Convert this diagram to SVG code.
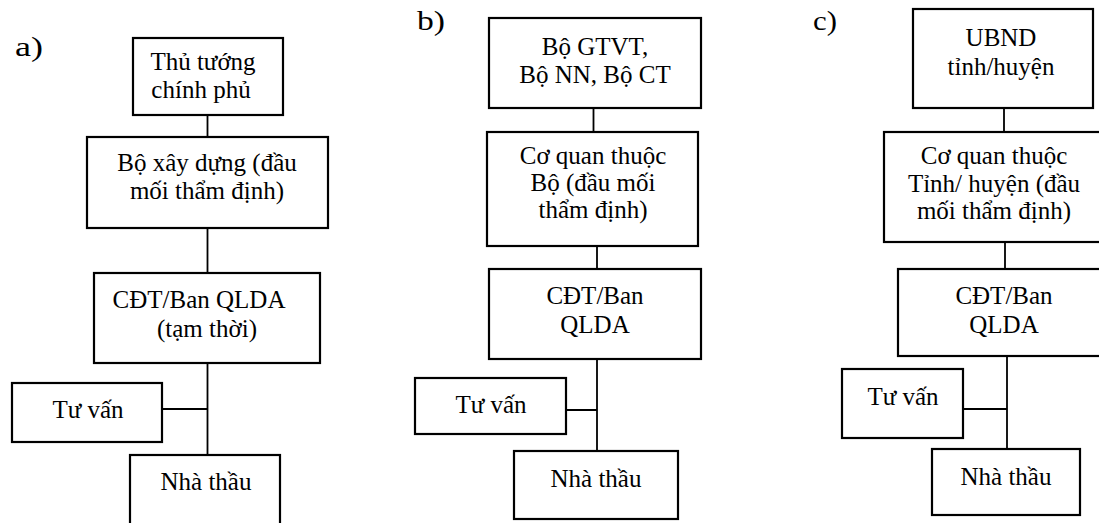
<svg xmlns="http://www.w3.org/2000/svg" width="1099" height="523" viewBox="0 0 1099 523">
<style>
.box{fill:#fff;stroke:#000;stroke-width:2.2}
.t{font-family:"Liberation Serif","Times New Roman",serif;font-size:25px;fill:#000;text-anchor:middle}
.lbl{font-family:"Liberation Serif","Times New Roman",serif;font-size:27px;fill:#000}
.c{stroke:#000;stroke-width:1.8;fill:none}
</style>
<rect width="1099" height="523" fill="#fff"/>
<g id="connectors">
<path class="c" d="M207.5 115V455M162 409H207.5"/>
<path class="c" d="M593.5 108V132M597 246V451M566 410H597"/>
<path class="c" d="M1004 108V132M1005 242V269M1007 356V449M963 409H1007"/>
</g>
<g id="labels">
<text class="lbl" x="15" y="56" textLength="28" lengthAdjust="spacingAndGlyphs">a)</text>
<text class="lbl" x="417" y="30" textLength="28" lengthAdjust="spacingAndGlyphs">b)</text>
<text class="lbl" x="813" y="30" textLength="24" lengthAdjust="spacingAndGlyphs">c)</text>
</g>
<g id="a-thutuong"><rect class="box" x="133" y="38" width="150" height="77"/><text class="t" x="203" y="70">Thủ tướng</text><text class="t" x="201" y="98">chính phủ</text></g>
<g id="a-boxaydung"><rect class="box" x="87" y="137" width="241" height="91"/><text class="t" x="207" y="171">Bộ xây dựng (đầu</text><text class="t" x="207" y="199">mối thẩm định)</text></g>
<g id="a-cdt"><rect class="box" x="94" y="273" width="226" height="90"/><text class="t" x="199" y="308">CĐT/Ban QLDA</text><text class="t" x="207" y="337">(tạm thời)</text></g>
<g id="a-tuvan"><rect class="box" x="12" y="383" width="150" height="59"/><text class="t" x="88" y="418">Tư vấn</text></g>
<g id="a-nhathau"><rect class="box" x="130" y="455" width="150" height="80"/><text class="t" x="206" y="490">Nhà thầu</text></g>
<g id="b-bo"><rect class="box" x="489" y="18" width="212" height="90"/><text class="t" x="595" y="55">Bộ GTVT,</text><text class="t" x="595" y="83">Bộ NN, Bộ CT</text></g>
<g id="b-coquan"><rect class="box" x="487" y="132" width="211" height="114"/><text class="t" x="593" y="164">Cơ quan thuộc</text><text class="t" x="593" y="191">Bộ (đầu mối</text><text class="t" x="593" y="218">thẩm định)</text></g>
<g id="b-cdt"><rect class="box" x="489" y="269" width="212" height="90"/><text class="t" x="595" y="304">CĐT/Ban</text><text class="t" x="595" y="333">QLDA</text></g>
<g id="b-tuvan"><rect class="box" x="415" y="378" width="151" height="56"/><text class="t" x="491" y="413">Tư vấn</text></g>
<g id="b-nhathau"><rect class="box" x="514" y="451" width="164" height="68"/><text class="t" x="596" y="487">Nhà thầu</text></g>
<g id="c-ubnd"><rect class="box" x="913" y="9" width="180" height="99"/><text class="t" x="1001" y="46">UBND</text><text class="t" x="1001" y="75">tỉnh/huyện</text></g>
<g id="c-coquan"><rect class="box" x="884" y="132" width="225" height="110"/><text class="t" x="994" y="164">Cơ quan thuộc</text><text class="t" x="994" y="192">Tỉnh/ huyện (đầu</text><text class="t" x="994" y="219">mối thẩm định)</text></g>
<g id="c-cdt"><rect class="box" x="898" y="269" width="211" height="87"/><text class="t" x="1004" y="304">CĐT/Ban</text><text class="t" x="1004" y="333">QLDA</text></g>
<g id="c-tuvan"><rect class="box" x="842" y="369" width="121" height="69"/><text class="t" x="903" y="405">Tư vấn</text></g>
<g id="c-nhathau"><rect class="box" x="932" y="449" width="148" height="66"/><text class="t" x="1006" y="485">Nhà thầu</text></g>
</svg>
